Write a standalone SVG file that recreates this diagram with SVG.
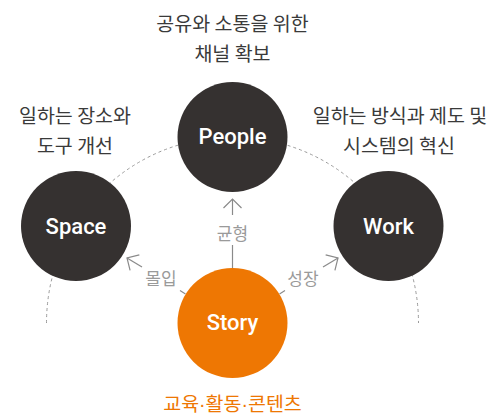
<svg xmlns="http://www.w3.org/2000/svg" width="496" height="416" viewBox="0 0 496 416">
<style>
.lbl{font-family:"Noto Sans CJK KR","Noto Sans",sans-serif;font-size:19.5px;fill:#3a3a3a;text-anchor:middle}
.conn-lbl{font-family:"Noto Sans CJK KR","Noto Sans",sans-serif;font-size:17px;fill:#9a9a9a;text-anchor:middle}
.node-dark{fill:#353130}
.node-orange{fill:#ee7703}
.node-txt{font-family:Roboto,"Noto Sans",sans-serif;font-weight:500;font-size:22px;fill:#ffffff;text-anchor:middle}
.dash{fill:none;stroke:#9a9a9a;stroke-width:1;stroke-dasharray:3 3}
.arr{fill:none;stroke:#8a8a8a;stroke-width:1.2}
.dot{font-family:"Liberation Sans",sans-serif}
</style>
<defs>
<marker id="open" viewBox="-10 -10 20 20" refX="0" refY="0" markerWidth="20" markerHeight="20" markerUnits="userSpaceOnUse" orient="auto">
<path d="M-9,-9 L0,0 L-9,9" fill="none" stroke="#8a8a8a" stroke-width="1.2"/>
</marker>
</defs>
<g id="backdrop">
<path class="dash" d="M46.5,323 A186,186 0 0 1 418.5,323"/>
</g>
<g id="connectors">
<line class="arr" x1="232.5" y1="268" x2="232.5" y2="245"/>
<line class="arr" x1="232.5" y1="215" x2="232.5" y2="199" marker-end="url(#open)"/>
<line class="arr" x1="185.5" y1="294" x2="180" y2="290.6"/>
<line class="arr" x1="142" y1="267" x2="127" y2="258" marker-end="url(#open)"/>
<line class="arr" x1="279.5" y1="294" x2="285" y2="290.6"/>
<line class="arr" x1="323" y1="267" x2="338" y2="258" marker-end="url(#open)"/>
<text class="conn-lbl" x="232.5" y="240">균형</text>
<text class="conn-lbl" x="161" y="285">몰입</text>
<text class="conn-lbl" x="303" y="285">성장</text>
</g>
<g id="people">
<circle class="node-dark" cx="232.5" cy="137" r="55"/>
<text class="node-txt" x="232.5" y="144">People</text>
<text class="lbl" x="232.5" y="31">공유와 소통을 위한</text>
<text class="lbl" x="232.5" y="61">채널 확보</text>
</g>
<g id="space">
<circle class="node-dark" cx="76" cy="226" r="55"/>
<text class="node-txt" x="76" y="234">Space</text>
<text class="lbl" x="75" y="123">일하는 장소와</text>
<text class="lbl" x="75" y="153">도구 개선</text>
</g>
<g id="work">
<circle class="node-dark" cx="388.5" cy="226" r="55"/>
<text class="node-txt" x="388.5" y="234">Work</text>
<text class="lbl" x="400" y="123">일하는 방식과 제도 및</text>
<text class="lbl" x="399" y="153">시스템의 혁신</text>
</g>
<g id="story">
<circle class="node-orange" cx="232.5" cy="323" r="55"/>
<text class="node-txt" x="232.5" y="330">Story</text>
<text class="lbl" x="232.5" y="411" style="fill:#ee7703">교육<tspan class="dot">·</tspan>활동<tspan class="dot">·</tspan>콘텐츠</text>
</g>
</svg>
